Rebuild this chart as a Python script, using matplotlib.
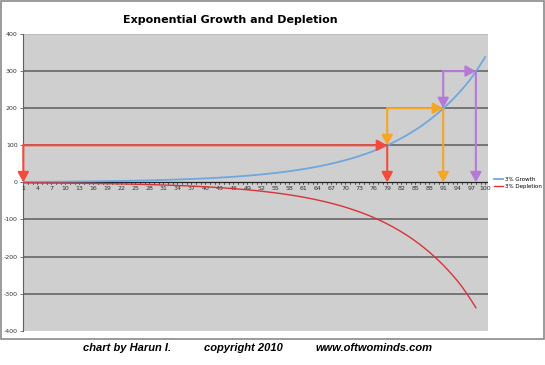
import matplotlib
matplotlib.use("Agg")
import matplotlib.pyplot as plt
from matplotlib.patches import Rectangle

# ---- data ----
periods = list(range(1, 101))
growth = [1.1, 1.2, 1.3, 1.3, 1.4, 1.5, 1.6, 1.7, 1.8, 1.9,
          2.0, 2.1, 2.3, 2.4, 2.5, 2.7, 2.8, 3.0, 3.2, 3.4,
          3.6, 3.8, 4.0, 4.3, 4.5, 4.8, 5.1, 5.4, 5.7, 6.0,
          6.4, 6.8, 7.2, 7.6, 8.0, 8.5, 9.0, 9.5, 10.1, 10.7,
          11.3, 12.0, 12.7, 13.4, 14.2, 15.1, 16.0, 16.9, 17.9, 19.0,
          20.1, 21.3, 22.5, 23.9, 25.3, 26.8, 28.3, 30.0, 31.8, 33.7,
          35.6, 37.7, 40.0, 42.3, 44.8, 47.5, 50.3, 53.2, 56.4, 59.7,
          63.2, 66.9, 70.9, 75.1, 79.5, 84.2, 89.1, 94.4, 100.0, 105.9,
          112.1, 118.7, 125.8, 133.2, 141.0, 149.3, 158.2, 167.5, 177.4, 187.8,
          198.9, 210.7, 223.1, 236.2, 250.2, 264.9, 281.0, 299.0, 318.0, 338.0]
depletion_periods = list(range(1, 99))
depletion = [-1.3, -1.3, -1.4, -1.5, -1.6, -1.7, -1.8, -1.9, -2.0, -2.1,
             -2.3, -2.4, -2.5, -2.7, -2.8, -3.0, -3.2, -3.4, -3.6, -3.8,
             -4.0, -4.3, -4.5, -4.8, -5.1, -5.4, -5.7, -6.0, -6.4, -6.8,
             -7.2, -7.6, -8.0, -8.5, -9.0, -9.5, -10.1, -10.7, -11.3, -12.0,
             -12.7, -13.4, -14.2, -15.1, -16.0, -16.9, -17.9, -19.0, -20.1, -21.3,
             -22.5, -23.9, -25.3, -26.8, -28.3, -30.0, -31.8, -33.7, -35.6, -37.7,
             -40.0, -42.3, -44.8, -47.5, -50.3, -53.2, -56.4, -59.7, -63.2, -66.9,
             -70.9, -75.1, -79.5, -84.2, -89.1, -94.4, -100.0, -105.9, -112.1, -118.7,
             -125.8, -133.2, -141.0, -149.3, -158.2, -167.5, -177.4, -187.8, -198.9, -210.7,
             -223.1, -236.2, -250.2, -264.9, -281.0, -299.0, -318.0, -338.0]
series_labels = ["3% Growth", "3% Depletion"]
x_tick_labels = list(range(1, 101, 3))
y_ticks = [-400, -300, -200, -100, 0, 100, 200, 300, 400]
# arrow steps: (period, level) pairs
red_steps = [(1, 100), (79, 100)]
orange_steps = [(79, 200), (91, 200)]
purple_steps = [(91, 300), (98, 300)]
title = "Exponential Growth and Depletion"
footer = ["chart by Harun I.", "copyright 2010", "www.oftwominds.com"]

W, H = 545, 365
fig = plt.figure(figsize=(W / 100, H / 100), dpi=100)
fig.patch.set_facecolor("white")

# outer frame
fig.patches.append(Rectangle((1 / W, 1 - 339 / H), 543 / W, 338 / H,
                             transform=fig.transFigure, fill=False,
                             edgecolor="#8a8a8a", lw=1.2))

ax = fig.add_axes([23.3 / W, 1 - 330.7 / H, (488 - 23.3) / W, (330.7 - 34) / H])
ax.set_facecolor("#cfcfcf")
ax.set_xlim(1, 100.6)
ax.set_ylim(-400, 400)

for yv in y_ticks:
    if yv not in (0, 400, -400):
        ax.axhline(yv, color="#6e6e6e", lw=1.3, zorder=1)

for s in ["top", "right", "bottom"]:
    ax.spines[s].set_visible(False)
ax.spines["left"].set_color("#606060")
ax.spines["left"].set_linewidth(0.8)
ax.set_yticks(y_ticks)
ax.set_yticklabels([str(v) for v in y_ticks], fontsize=4.5, color="#333333")
ax.tick_params(axis="y", length=2.5, width=0.6, pad=1.5, color="#606060")
ax.set_xticks([])
ax.axhline(400, color="#bdbdbd", lw=0.8, zorder=1)

# x axis at zero with category ticks
ax.axhline(0, color="#222222", lw=0.9, zorder=2)
for p in periods:
    ax.plot([p, p], [0, -5], color="#222222", lw=0.5, zorder=2)
for lab in x_tick_labels:
    ax.text(lab, -10, str(lab), fontsize=4.5, ha="center", va="top", color="#333333")

lg, = ax.plot(periods, growth, color="#6fa7df", lw=1.3, zorder=4, label=series_labels[0])
ld, = ax.plot(depletion_periods, depletion, color="#d8333b", lw=1.0, zorder=5, label=series_labels[1])


def arrow(x0, y0, x1, y1, color):
    ax.annotate("", xy=(x1, y1), xytext=(x0, y0),
                arrowprops=dict(arrowstyle="-|>,head_length=0.6,head_width=0.33",
                                color=color, lw=1.5, shrinkA=0, shrinkB=0),
                zorder=6)


for steps, col in [(red_steps, "#f24a3c"), (orange_steps, "#f5a623"), (purple_steps, "#b57ad8")]:
    (xa, ya), (xb, yb) = steps
    arrow(xa, ya, xa, ya - 100 if col != "#f24a3c" else 0, col)
    arrow(xa, ya, xb, yb, col)
    arrow(xb, yb, xb, 0, col)

leg = fig.legend(handles=[lg, ld], labels=series_labels, loc="upper left",
                 bbox_to_anchor=(491 / W, 1 - 174 / H), frameon=False,
                 fontsize=4, handlelength=1.7, handletextpad=0.4,
                 labelspacing=0.4, borderpad=0)

fig.text(230 / W, 1 - 20 / H, title, ha="center", va="center",
         fontsize=8, fontweight="bold", family="DejaVu Sans")
for txt, xc in zip(footer, [127.5, 243, 374]):
    fig.text(xc / W, 1 - 348 / H, txt, ha="center", va="center",
             fontsize=8, fontweight="bold", fontstyle="italic",
             family="Liberation Sans")

fig.savefig("out.png", dpi=100)
